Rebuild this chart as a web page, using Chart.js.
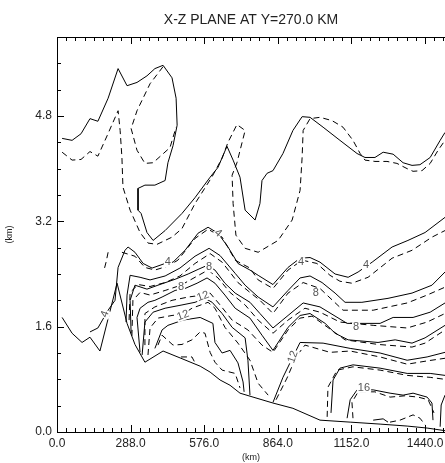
<!DOCTYPE html>
<html>
<head>
<meta charset="utf-8">
<script src="https://cdn.jsdelivr.net/npm/chart.js@4/dist/chart.umd.min.js"></script>
<style>
  html, body { margin: 0; padding: 0; background: #fff; overflow: hidden; }
  canvas { display: block; }
</style>
</head>
<body>
<canvas id="plane" width="445" height="463"></canvas>
<script>
const titleText = "X-Z PLANE AT Y=270.0 KM";
const xTicks = [0, 288, 576, 864, 1152, 1440];
const yTicks = [0, 1.6, 3.2, 4.8];

// contour lines, [x km, z km]
const outerSolid = [[20,4.46],[59,4.43],[94,4.53],[129,4.76],[160,4.72],[200,5.07],[239,5.52],[274,5.26],[313,5.31],[352,5.41],[383,5.52],[415,5.57],[450,5.38],[466,5.07],[470,4.66],[454,4.35],[434,4.09],[423,3.82],[383,3.75],[344,3.75],[317,3.70],[317,3.37],[329,3.32],[352,3.03],[376,2.91],[423,3.06],[489,3.32],[540,3.56],[599,3.87],[630,4.02],[665,4.34],[689,4.13],[716,3.87],[736,3.37],[775,3.22],[794,3.47],[802,3.82],[822,3.93],[845,3.97],[884,4.23],[923,4.58],[959,4.79],[990,4.78],[1041,4.63],[1107,4.43],[1174,4.23],[1205,4.17],[1244,4.17],[1276,4.25],[1315,4.22],[1354,4.09],[1389,4.05],[1420,4.06],[1460,4.17],[1499,4.43],[1518,4.55]];
const outerDash = [[20,4.25],[59,4.13],[94,4.14],[129,4.26],[160,4.19],[196,4.50],[239,4.88],[247,4.58],[254,4.17],[258,3.72],[286,3.37],[325,3.03],[356,2.87],[391,2.85],[450,2.96],[489,3.09],[540,3.47],[607,3.88],[646,4.16],[669,4.40],[704,4.67],[736,4.58],[704,4.09],[685,3.90],[689,3.47],[700,2.99],[736,2.79],[787,2.73],[865,2.91],[920,3.22],[951,3.67],[959,4.17],[963,4.58],[990,4.76],[1029,4.78],[1076,4.73],[1119,4.63],[1158,4.43],[1186,4.23],[1205,4.13],[1244,4.11],[1291,4.11],[1330,4.08],[1370,4.00],[1393,3.96],[1428,3.97],[1460,4.08],[1491,4.28],[1518,4.43]];
const loopDash = [[415,5.55],[364,5.29],[313,4.88],[290,4.61],[313,4.28],[344,4.08],[376,4.09],[442,4.32],[466,4.63]];

const c4Solid = [[129,1.52],[160,1.58],[200,1.85],[227,2.00],[239,2.50],[266,2.76],[278,2.81],[305,2.73],[337,2.56],[372,2.49],[423,2.56],[454,2.58],[501,2.76],[552,3.02],[591,3.11],[630,3.02],[669,2.81],[708,2.56],[755,2.46],[787,2.38],[845,2.24],[904,2.50],[951,2.64],[990,2.65],[1029,2.58],[1088,2.40],[1139,2.35],[1178,2.43],[1233,2.58],[1311,2.81],[1373,2.91],[1440,3.03],[1518,3.26]];
const c4Dash = [[254,2.73],[305,2.67],[344,2.50],[383,2.46],[434,2.52],[473,2.61],[540,2.94],[591,3.08],[646,2.96],[697,2.61],[755,2.49],[787,2.31],[845,2.18],[904,2.46],[959,2.61],[1017,2.56],[1068,2.38],[1107,2.29],[1154,2.26],[1217,2.35],[1311,2.64],[1389,2.76],[1467,2.96],[1518,3.06]];
const c6Solid = [[270,1.67],[274,2.08],[286,2.38],[325,2.35],[364,2.31],[423,2.37],[481,2.49],[540,2.67],[595,2.79],[638,2.68],[697,2.41],[736,2.23],[787,2.05],[845,1.90],[904,2.15],[951,2.34],[990,2.37],[1037,2.27],[1088,2.11],[1127,1.97],[1193,1.97],[1295,2.03],[1389,2.11],[1467,2.23],[1518,2.43]];
const c6Dash = [[282,1.70],[286,2.12],[317,2.24],[364,2.21],[423,2.27],[481,2.37],[540,2.56],[599,2.71],[646,2.58],[708,2.27],[755,2.12],[794,2.00],[845,1.80],[904,2.11],[963,2.27],[1029,2.18],[1119,1.85],[1237,1.85],[1370,1.96],[1448,2.08],[1518,2.20]];
const c8Solid = [[290,1.50],[286,2.00],[305,2.23],[352,2.17],[395,2.23],[462,2.32],[513,2.40],[552,2.47],[587,2.53],[618,2.46],[657,2.26],[697,2.11],[755,1.97],[794,1.80],[845,1.58],[904,1.77],[963,1.96],[1029,1.90],[1135,1.65],[1264,1.65],[1315,1.74],[1393,1.74],[1460,1.82],[1518,1.96]];
const c8Dash = [[293,1.46],[297,2.00],[325,2.12],[364,2.08],[423,2.15],[485,2.23],[540,2.35],[591,2.46],[630,2.34],[677,2.12],[736,1.93],[787,1.70],[845,1.50],[904,1.70],[970,1.88],[1029,1.82],[1107,1.67],[1237,1.62],[1370,1.58],[1448,1.67],[1518,1.80]];
const c10Solid = [[325,1.21],[313,1.74],[325,1.88],[356,1.97],[383,2.00],[411,2.05],[462,2.15],[501,2.18],[548,2.26],[587,2.34],[618,2.26],[657,2.08],[697,1.88],[755,1.73],[802,1.47],[845,1.24],[904,1.59],[951,1.77],[990,1.80],[1049,1.65],[1088,1.50],[1139,1.40],[1256,1.36],[1323,1.40],[1389,1.35],[1440,1.43],[1518,1.62]];
const c10Dash = [[344,1.32],[344,1.80],[383,1.90],[450,2.00],[513,2.05],[571,2.08],[599,2.11],[638,1.93],[685,1.70],[747,1.55],[802,1.32],[845,1.21],[904,1.55],[951,1.73],[998,1.76],[1127,1.40],[1256,1.33],[1389,1.29],[1440,1.35],[1518,1.55]];
const c12Solid = [[333,1.17],[344,1.67],[376,1.82],[423,1.88],[489,1.93],[540,1.97],[579,2.03],[607,1.97],[646,1.80],[685,1.59],[736,1.43],[747,1.09],[755,0.56]];
const c12Dash = [[356,1.17],[364,1.58],[395,1.73],[450,1.77],[493,1.79],[528,1.88],[591,1.97],[618,1.88],[657,1.59],[708,1.35],[755,1.09],[787,0.74],[826,0.56]];
const c14Solid = [[383,1.27],[411,1.55],[434,1.62],[493,1.70],[560,1.74],[610,1.65],[618,1.36],[646,1.20],[677,1.24],[708,1.05],[728,0.76],[732,0.61]];
const c14Dash = [[395,1.32],[411,1.47],[454,1.32],[489,1.33],[528,1.40],[560,1.52],[579,1.50],[599,1.21],[618,1.06],[646,0.94],[697,0.89],[716,0.67]];
const lowDashBit = [[485,1.14],[528,1.14],[540,1.05]];
const leftDashBit = [[200,2.73],[192,2.58],[184,2.46]];

const r12Solid = [[845,0.45],[884,0.83],[923,1.14],[951,1.36],[1041,1.35],[1147,1.27],[1264,1.20],[1370,1.09],[1448,1.14],[1518,1.21]];
const r12Dash = [[857,0.49],[900,0.82],[935,1.14],[970,1.32],[1068,1.21],[1147,1.23],[1264,1.14],[1370,1.03],[1448,1.08],[1518,1.12]];
const r14Solid = [[1072,0.29],[1080,0.79],[1107,0.97],[1158,1.02],[1264,0.97],[1370,0.89],[1460,0.89],[1518,0.86]];
const r14Dash = [[1057,0.23],[1060,0.68],[1096,0.94],[1158,0.99],[1264,0.94],[1370,0.86],[1460,0.83],[1518,0.80]];
const r16Solid = [[1135,0.21],[1147,0.49],[1174,0.64],[1237,0.64],[1303,0.59],[1354,0.56],[1393,0.59],[1448,0.53],[1467,0.44],[1471,0.18]];
const r16Dash = [[1158,0.21],[1154,0.45],[1178,0.61],[1244,0.61],[1303,0.53],[1362,0.55],[1413,0.53],[1452,0.49],[1475,0.29]];
const edgeSolid = [[1518,0.56],[1503,0.41],[1499,0.08]];
const floorSolidBit = [[1237,0.18],[1276,0.20],[1295,0.15]];
const floorDashBit = [[1303,0.15],[1342,0.18],[1393,0.26],[1420,0.21],[1440,0.11]];

const terrain = [[20,1.74],[59,1.50],[98,1.36],[129,1.44],[168,1.23],[235,2.26],[274,1.65],[305,1.33],[344,1.06],[415,1.23],[485,1.12],[560,1.00],[599,0.91],[638,0.79],[677,0.71],[716,0.59],[767,0.53],[845,0.44],[923,0.36],[1029,0.18],[1147,0.15],[1264,0.12],[1370,0.09],[1448,0.06],[1518,0.02]];

const solidLines = [outerSolid, c4Solid, c6Solid, c8Solid, c10Solid, c12Solid, c14Solid, r12Solid, r14Solid, r16Solid, edgeSolid, floorSolidBit, terrain];
const dashedLines = [outerDash, loopDash, c4Dash, c6Dash, c8Dash, c10Dash, c12Dash, c14Dash, lowDashBit, leftDashBit, r12Dash, r14Dash, r16Dash, floorDashBit];

// contour level labels
const labelText = ["4", "4", "4", "4", "4", "8", "8", "8", "8", "12", "12", "12", "16"];
const labelX = [188, 434, 630, 955, 1209, 595, 485, 1013, 1170, 571, 493, 923, 1201];
const labelY = [1.79, 2.58, 3.02, 2.58, 2.53, 2.50, 2.21, 2.11, 1.59, 2.06, 1.77, 1.14, 0.67];
const labelAngle = [-70, 0, 40, 0, 0, 0, 0, 0, 0, -20, -20, -70, 0];

const toPoints = (arr) => arr.map(([x, y]) => ({ x, y }));

const datasets = [];
solidLines.forEach((line) => {
  datasets.push({ data: toPoints(line), borderColor: "#000", borderWidth: 1, showLine: true, pointRadius: 0, tension: 0 });
});
dashedLines.forEach((line) => {
  datasets.push({ data: toPoints(line), borderColor: "#000", borderWidth: 1, borderDash: [6, 4], showLine: true, pointRadius: 0, tension: 0 });
});

const framePlugin = {
  id: "framePlugin",
  afterDatasetsDraw(chart) {
    const { ctx, chartArea: a, scales } = chart;
    const x = scales.x, y = scales.y;
    ctx.save();

    // level labels
    ctx.font = '11px "Liberation Sans", Arial, sans-serif';
    ctx.textAlign = "center";
    ctx.textBaseline = "middle";
    labelText.forEach((t, i) => {
      const px = x.getPixelForValue(labelX[i]);
      const py = y.getPixelForValue(labelY[i]);
      const w = ctx.measureText(t).width + 2;
      ctx.save();
      ctx.translate(px, py);
      ctx.rotate(labelAngle[i] * Math.PI / 180);
      ctx.fillStyle = "#fff";
      ctx.fillRect(-w / 2, -5, w, 10);
      ctx.fillStyle = "#555";
      ctx.fillText(t, 0, 0);
      ctx.restore();
    });

    // top border and inward ticks
    ctx.strokeStyle = "#000";
    ctx.lineWidth = 1;
    ctx.beginPath();
    ctx.moveTo(a.left, a.top + 0.5);
    ctx.lineTo(a.right, a.top + 0.5);
    for (let i = 0; i * 36 <= x.max; i++) {
      const px = Math.round(x.getPixelForValue(i * 36)) + 0.5;
      const len = i % 8 === 0 ? 7 : 4;
      ctx.moveTo(px, a.bottom);
      ctx.lineTo(px, a.bottom - len);
      ctx.moveTo(px, a.top);
      ctx.lineTo(px, a.top + len);
    }
    for (let i = 0; i <= 15; i++) {
      const py = Math.round(y.getPixelForValue(i * 0.4)) + 0.5;
      const len = i % 4 === 0 ? 7 : 4;
      ctx.moveTo(a.left, py);
      ctx.lineTo(a.left + len, py);
    }
    ctx.stroke();

    ctx.fillStyle = "#222";
    ctx.font = '14px "Liberation Sans", Arial, sans-serif';
    ctx.textBaseline = "middle";
    ctx.fillText(titleText, (a.left + a.right) / 2, 20);
    ctx.restore();
  },
};

new Chart(document.getElementById("plane"), {
  type: "scatter",
  data: { datasets },
  options: {
    responsive: false,
    animation: false,
    layout: { padding: { top: 37, right: 0, left: 0, bottom: 0 } },
    plugins: { legend: { display: false }, tooltip: { enabled: false }, title: { display: false } },
    scales: {
      x: {
        type: "linear",
        min: 0,
        max: 1518,
        afterBuildTicks: (s) => { s.ticks = xTicks.map((v) => ({ value: v })); },
        afterFit: (s) => { s.height = 31; s.paddingLeft = 0; s.paddingRight = 0; },
        grid: { display: false, drawTicks: false },
        border: { display: true, color: "#000", width: 1 },
        ticks: {
          padding: 4,
          maxRotation: 0,
          color: "#222",
          font: { family: '"Liberation Sans", Arial, sans-serif', size: 12 },
          callback: (v) => Number(v).toFixed(1),
        },
        title: { display: true, text: "(km)", color: "#222", padding: { top: 0, bottom: 0 }, font: { family: '"Liberation Sans", Arial, sans-serif', size: 9 } },
      },
      y: {
        type: "linear",
        min: 0,
        max: 6,
        afterBuildTicks: (s) => { s.ticks = yTicks.map((v) => ({ value: v })); },
        afterFit: (s) => { s.width = 57; s.paddingTop = 0; s.paddingBottom = 0; },
        grid: { display: false, drawTicks: false },
        border: { display: true, color: "#000", width: 1 },
        ticks: {
          padding: 5,
          color: "#222",
          font: { family: '"Liberation Sans", Arial, sans-serif', size: 12 },
          callback: (v) => Number(v).toFixed(1),
        },
        title: { display: true, text: "(km)", color: "#222", padding: { top: 4, bottom: 0 }, font: { family: '"Liberation Sans", Arial, sans-serif', size: 9 } },
      },
    },
  },
  plugins: [framePlugin],
});
</script>
</body>
</html>
